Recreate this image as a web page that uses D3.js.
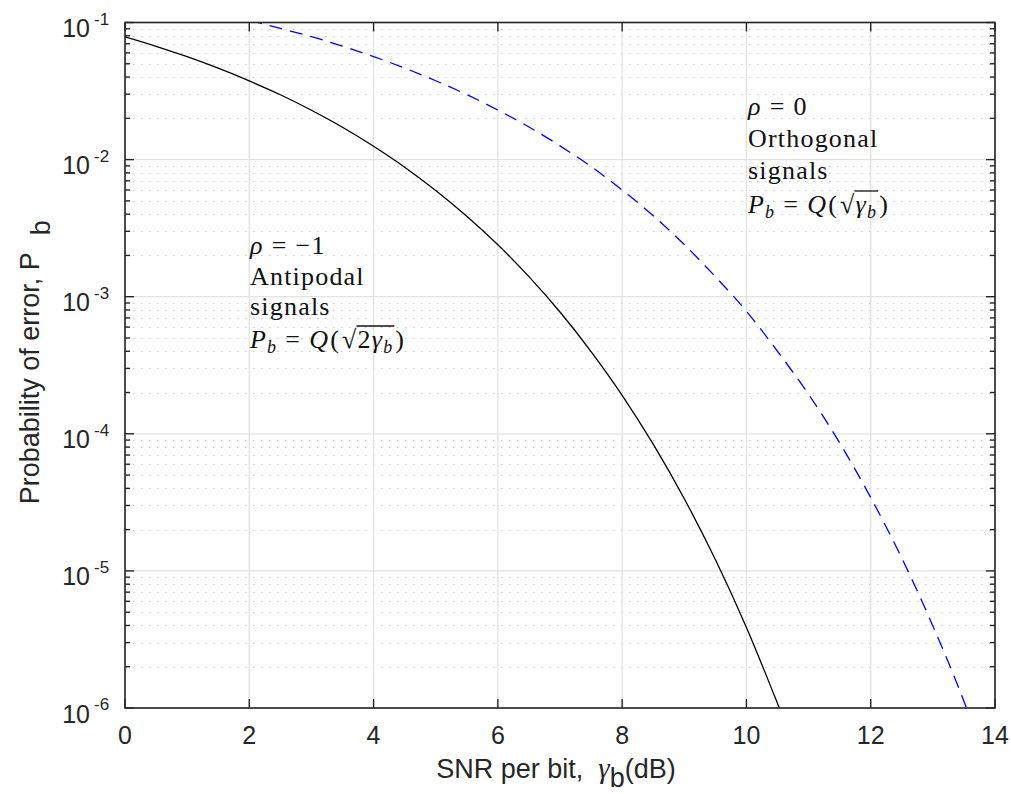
<!DOCTYPE html>
<html>
<head>
<meta charset="utf-8">
<script src="https://cdn.jsdelivr.net/npm/d3@7"></script>
<style>
  html, body { margin: 0; padding: 0; background: #fff; }
  svg { display: block; }
  text { white-space: pre; }
</style>
</head>
<body>
<div id="vis"></div>
<script>
// values
var SNR_ANTI = [0, 0.5, 1, 1.5, 2, 2.5, 3, 3.5, 4, 4.5, 5, 5.5, 6, 6.5, 7, 7.5, 8, 8.5, 9, 9.5, 10, 10.5, 10.6];
var PB_ANTI = [0.0786, 0.0671, 0.0563, 0.0464, 0.0375, 0.0297, 0.0229, 0.0172, 0.0125, 0.0088,
  0.00595, 0.00386, 0.00239, 0.0014, 7.73e-4, 3.98e-4, 1.91e-4, 8.4e-5, 3.36e-5, 1.21e-5,
  3.87e-6, 1.08e-6, 8.3e-7];
var SNR_ORTH = [2, 2.5, 3, 3.5, 4, 4.5, 5, 5.5, 6, 6.5, 7, 7.5, 8, 8.5, 9, 9.5, 10, 10.5, 11, 11.5, 12, 12.5, 13, 13.5, 13.6];
var PB_ORTH = [0.104, 0.0905, 0.0789, 0.0672, 0.0564, 0.0465, 0.0376, 0.0298, 0.0230, 0.0173,
  0.0126, 0.0089, 0.0060, 0.0039, 0.0024, 0.0014, 7.83e-4, 4.0e-4, 1.94e-4, 8.6e-5,
  3.43e-5, 1.24e-5, 3.97e-6, 1.12e-6, 8.5e-7];
var X_TICKS = [0, 2, 4, 6, 8, 10, 12, 14];
var Y_EXPONENTS = [-1, -2, -3, -4, -5, -6];

(function () {
  'use strict';

  var WIDTH = 1011;
  var HEIGHT = 794;
  var LEFT = 125, RIGHT = 995, TOP = 22.5, BOTTOM = 708;
  var SANS = '"Liberation Sans", Arial, Helvetica, sans-serif';
  var SERIF = '"Liberation Serif", "Times New Roman", serif';
  var GRID = '#e2e2e2';
  var AXIS = '#262626';

  var svg = d3.select('#vis').append('svg')
    .attr('width', WIDTH)
    .attr('height', HEIGHT);

  var x = d3.scaleLinear().domain([0, 14]).range([LEFT, RIGHT]);
  var y = d3.scaleLog().domain([1e-6, 1e-1]).range([BOTTOM, TOP]);

  // minor decade values 2..9 x 10^k
  var minor = [];
  Y_EXPONENTS.slice(1).forEach(function (e) {
    for (var m = 2; m <= 9; m++) minor.push(m * Math.pow(10, e));
  });

  var grid = svg.append('g');
  grid.selectAll('line.minor').data(minor).enter().append('line')
    .attr('class', 'minor')
    .attr('x1', LEFT).attr('x2', RIGHT)
    .attr('y1', function (d) { return Math.round(y(d)) + 0.5; })
    .attr('y2', function (d) { return Math.round(y(d)) + 0.5; })
    .attr('stroke', '#c8c8c8')
    .attr('stroke-width', 1.2)
    .attr('stroke-dasharray', '1.5,6.5');
  grid.selectAll('line.hmajor').data(Y_EXPONENTS).enter().append('line')
    .attr('class', 'hmajor')
    .attr('x1', LEFT).attr('x2', RIGHT)
    .attr('y1', function (d) { return y(Math.pow(10, d)); })
    .attr('y2', function (d) { return y(Math.pow(10, d)); })
    .attr('stroke', GRID).attr('stroke-width', 1.3);
  grid.selectAll('line.vmajor').data(X_TICKS).enter().append('line')
    .attr('class', 'vmajor')
    .attr('x1', function (d) { return x(d); })
    .attr('x2', function (d) { return x(d); })
    .attr('y1', TOP).attr('y2', BOTTOM)
    .attr('stroke', GRID).attr('stroke-width', 1.3);

  // curves, clipped to the axes box
  svg.append('clipPath').attr('id', 'plot-clip')
    .append('rect')
    .attr('x', LEFT).attr('y', TOP)
    .attr('width', RIGHT - LEFT).attr('height', BOTTOM - TOP);

  var line = d3.line()
    .x(function (d) { return x(d[0]); })
    .y(function (d) { return y(d[1]); })
    .curve(d3.curveMonotoneX);

  var curves = svg.append('g').attr('clip-path', 'url(#plot-clip)');
  curves.append('path')
    .attr('d', line(d3.zip(SNR_ANTI, PB_ANTI)))
    .attr('fill', 'none')
    .attr('stroke', '#000')
    .attr('stroke-width', 1.3);
  curves.append('path')
    .attr('d', line(d3.zip(SNR_ORTH, PB_ORTH)))
    .attr('fill', 'none')
    .attr('stroke', '#0000ff')
    .attr('stroke-width', 1.3)
    .attr('stroke-dasharray', '13,8');

  // axes box and inward ticks
  var axes = svg.append('g').attr('stroke', AXIS);
  axes.append('rect')
    .attr('x', LEFT).attr('y', TOP)
    .attr('width', RIGHT - LEFT).attr('height', BOTTOM - TOP)
    .attr('fill', 'none').attr('stroke-width', 1.6);
  X_TICKS.forEach(function (d) {
    axes.append('line').attr('x1', x(d)).attr('x2', x(d))
      .attr('y1', BOTTOM).attr('y2', BOTTOM - 9).attr('stroke-width', 1.4);
    axes.append('line').attr('x1', x(d)).attr('x2', x(d))
      .attr('y1', TOP).attr('y2', TOP + 9).attr('stroke-width', 1.4);
  });
  Y_EXPONENTS.forEach(function (e) {
    var yy = y(Math.pow(10, e));
    axes.append('line').attr('x1', LEFT).attr('x2', LEFT + 9)
      .attr('y1', yy).attr('y2', yy).attr('stroke-width', 1.4);
    axes.append('line').attr('x1', RIGHT).attr('x2', RIGHT - 9)
      .attr('y1', yy).attr('y2', yy).attr('stroke-width', 1.4);
  });
  minor.forEach(function (d) {
    var yy = y(d);
    axes.append('line').attr('x1', LEFT).attr('x2', LEFT + 5)
      .attr('y1', yy).attr('y2', yy).attr('stroke-width', 1.4);
    axes.append('line').attr('x1', RIGHT).attr('x2', RIGHT - 5)
      .attr('y1', yy).attr('y2', yy).attr('stroke-width', 1.4);
  });

  // tick labels
  var labels = svg.append('g').attr('font-family', SANS).attr('fill', AXIS);
  labels.selectAll('text.xt').data(X_TICKS).enter().append('text')
    .attr('class', 'xt')
    .attr('x', function (d) { return x(d); })
    .attr('y', BOTTOM + 36)
    .attr('text-anchor', 'middle')
    .attr('font-size', 25)
    .text(function (d) { return d; });
  Y_EXPONENTS.forEach(function (e) {
    var yy = y(Math.pow(10, e));
    labels.append('text')
      .attr('x', 90).attr('y', yy + 14.5)
      .attr('text-anchor', 'end')
      .attr('font-size', 25)
      .text('10');
    labels.append('text')
      .attr('x', 94).attr('y', yy + 2)
      .attr('font-size', 17)
      .text(String(e));
  });

  // axis titles
  var xl = labels.append('text')
    .attr('x', (LEFT + RIGHT) / 2 - 4).attr('y', 778)
    .attr('text-anchor', 'middle')
    .attr('font-size', 27);
  xl.append('tspan').text('SNR per bit,  ');
  xl.append('tspan').attr('font-family', SERIF).attr('font-style', 'italic').attr('font-size', 29).text('γ');
  xl.append('tspan').attr('dy', 9).text('b');
  xl.append('tspan').attr('dy', -9).text('(dB)');

  var yl = labels.append('text')
    .attr('transform', 'translate(39,' + ((TOP + BOTTOM) / 2 - 3) + ') rotate(-90)')
    .attr('text-anchor', 'middle')
    .attr('font-size', 27);
  yl.append('tspan').text('Probability of error, P');
  yl.append('tspan').attr('dx', 17).attr('dy', 11).text('b');

  // annotations (LaTeX-like serif text)
  var FS = 26;
  function formula (g, x0, base, pieces) {
    var cx = x0, overStart = null, overEnd = null;
    pieces.forEach(function (p) {
      var t = g.append('text')
        .attr('x', cx)
        .attr('y', base + (p.sub ? 5 : 0))
        .attr('font-size', p.sub ? 18 : FS)
        .attr('font-style', p.it ? 'italic' : 'normal')
        .text(p.t);
      var w = t.node().getComputedTextLength();
      if (p.over && overStart === null) overStart = cx;
      if (p.over) overEnd = cx + w;
      cx += w + (p.gap || 0);
    });
    if (overStart !== null) {
      g.append('line')
        .attr('x1', overStart - 1).attr('x2', overEnd + 1)
        .attr('y1', base - 22).attr('y2', base - 22)
        .attr('stroke', '#111').attr('stroke-width', 1.3);
    }
  }

  function note (x0, bases, rho, name, pieces) {
    var g = svg.append('g')
      .attr('font-family', SERIF)
      .attr('fill', '#111')
      .attr('letter-spacing', 1.2);
    formula(g, x0, bases[0], [
      { t: 'ρ', it: 1, gap: 8 }, { t: '=', gap: 8 }].concat(rho));
    g.append('text').attr('x', x0).attr('y', bases[1]).attr('font-size', FS).text(name);
    g.append('text').attr('x', x0).attr('y', bases[2]).attr('font-size', FS).text('signals');
    formula(g, x0, bases[3], pieces);
  }

  note(250, [254, 285, 315, 348], [{ t: '−1' }], 'Antipodal', [
    { t: 'P', it: 1 }, { t: 'b', it: 1, sub: 1, gap: 8 }, { t: '=', gap: 8 },
    { t: 'Q', it: 1, gap: 1 }, { t: '(', gap: 2 }, { t: '√' },
    { t: '2', over: 1 }, { t: 'γ', it: 1, over: 1 }, { t: 'b', it: 1, sub: 1, over: 1, gap: 2 },
    { t: ')' }
  ]);
  note(748, [115, 147, 179, 213], [{ t: '0' }], 'Orthogonal', [
    { t: 'P', it: 1 }, { t: 'b', it: 1, sub: 1, gap: 8 }, { t: '=', gap: 8 },
    { t: 'Q', it: 1, gap: 1 }, { t: '(', gap: 2 }, { t: '√' },
    { t: 'γ', it: 1, over: 1 }, { t: 'b', it: 1, sub: 1, over: 1, gap: 2 },
    { t: ')' }
  ]);
})();
</script>
</body>
</html>
